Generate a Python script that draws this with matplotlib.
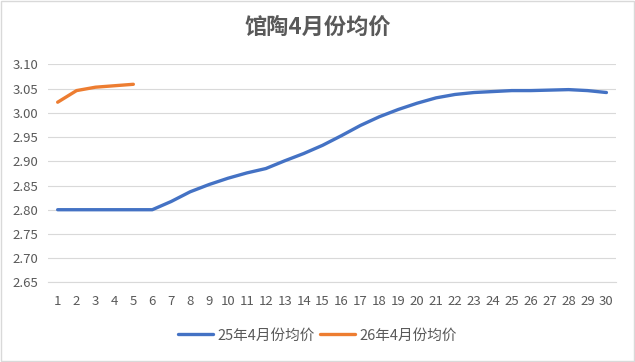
import matplotlib
matplotlib.use("Agg")
import matplotlib.pyplot as plt
from matplotlib.patches import Rectangle

plt.rcParams['font.family'] = ['Noto Sans CJK SC', 'DejaVu Sans']

days = list(range(1, 31))
series_25 = [2.800, 2.800, 2.800, 2.800, 2.800, 2.800, 2.817, 2.837, 2.852, 2.865,
             2.876, 2.885, 2.901, 2.916, 2.933, 2.953, 2.974, 2.992, 3.007, 3.020,
             3.031, 3.038, 3.042, 3.044, 3.046, 3.046, 3.047, 3.048, 3.046, 3.042]
days_26 = [1, 2, 3, 4, 5]
series_26 = [3.022, 3.046, 3.053, 3.056, 3.059]
label_25 = "25年4月份均价"
label_26 = "26年4月份均价"
title = "馆陶4月份均价"
yticks = [2.65, 2.70, 2.75, 2.80, 2.85, 2.90, 2.95, 3.00, 3.05, 3.10]

fig = plt.figure(figsize=(6.35, 3.62), dpi=100)
ax = fig.add_axes([0.0759, 0.220, 0.894, 0.602])

grey = "#595959"
ax.plot(days, series_25, color="#4472C4", lw=2.4, label=label_25, solid_capstyle="round")
ax.plot(days_26, series_26, color="#ED7D31", lw=2.4, label=label_26, solid_capstyle="round")

ax.set_xlim(0.5, 30.5)
ax.set_ylim(2.65, 3.10)
ax.set_yticks(yticks)
ax.set_yticklabels([f"{v:.2f}" for v in yticks])
ax.set_xticks(days)
ax.set_xticklabels([str(d) for d in days])
ax.grid(axis="y", color="#D9D9D9", lw=0.8)
ax.set_axisbelow(True)
for s in ["top", "right", "left"]:
    ax.spines[s].set_visible(False)
ax.spines["bottom"].set_color("#D9D9D9")
ax.tick_params(axis="both", length=0, labelsize=9.5, colors=grey)
ax.tick_params(axis="x", pad=9)
ax.tick_params(axis="y", pad=7)

fig.text(0.5, 0.925, title, ha="center", va="center", fontsize=16, fontweight="bold", color=grey)

leg = fig.legend(loc="center", bbox_to_anchor=(0.5, 0.073), ncol=2, frameon=False,
                 fontsize=10.5, handlelength=2.4, handletextpad=0.3, columnspacing=0.4)
for t in leg.get_texts():
    t.set_color(grey)

fig.patches.append(Rectangle((0.002, 0.003), 0.996, 0.994, transform=fig.transFigure,
                             fill=False, edgecolor="#D9D9D9", lw=1))

fig.savefig("out.png", dpi=100)
